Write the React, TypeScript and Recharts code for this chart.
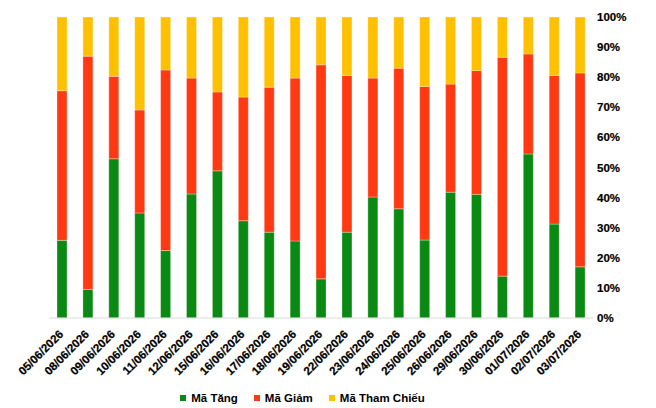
import React from 'react';
import { BarChart, Bar, XAxis, YAxis, Legend } from 'recharts';

const dates = [
  '05/06/2026', '08/06/2026', '09/06/2026', '10/06/2026', '11/06/2026', '12/06/2026',
  '15/06/2026', '16/06/2026', '17/06/2026', '18/06/2026', '19/06/2026', '22/06/2026',
  '23/06/2026', '24/06/2026', '25/06/2026', '26/06/2026', '29/06/2026', '30/06/2026',
  '01/07/2026', '02/07/2026', '03/07/2026',
];

// share of tickers per session, %
const tang = [25.8, 9.5, 52.9, 34.9, 22.4, 41.2, 48.9, 32.3, 28.5, 25.6, 13.0, 28.5, 40.2, 36.3, 25.9, 41.8, 41.1, 13.9, 54.5, 31.2, 17.0];
const giam = [49.7, 77.5, 27.4, 34.2, 60.0, 38.5, 26.2, 41.1, 48.2, 54.1, 71.1, 52.1, 39.5, 46.7, 51.0, 35.9, 41.1, 72.7, 33.2, 49.4, 64.4];
const thamChieu = [24.5, 13.0, 19.7, 30.9, 17.6, 20.3, 24.9, 26.6, 23.3, 20.3, 15.9, 19.4, 20.3, 17.0, 23.1, 22.3, 17.8, 13.4, 12.3, 19.4, 18.6];

const yTicks = [0, 0.1, 0.2, 0.3, 0.4, 0.5, 0.6, 0.7, 0.8, 0.9, 1];

const series = [
  { key: 'tang', name: 'Mã Tăng', color: '#0b8a13' },
  { key: 'giam', name: 'Mã Giảm', color: '#ff3a12' },
  { key: 'thamChieu', name: 'Mã Tham Chiếu', color: '#ffc000' },
];

const data = dates.map((d, i) => ({ date: d, tang: tang[i], giam: giam[i], thamChieu: thamChieu[i] }));

const font = '"Liberation Sans", Arial, sans-serif';

const DateTick = (props: any) => {
  const { x, y, payload } = props;
  const ax = x + 2;
  const ay = y + 9;
  return (
    <text
      x={ax}
      y={ay}
      transform={`rotate(-45, ${ax}, ${ay})`}
      textAnchor="end"
      fontFamily={font}
      fontWeight="bold"
      fontSize={11.5}
      fill="#000"
      stroke="#000"
      strokeWidth={0.25}
    >
      {payload.value}
    </text>
  );
};

const LegendBox = () => (
  <div
    style={{
      display: 'flex',
      justifyContent: 'center',
      alignItems: 'center',
      paddingRight: 84,
      paddingTop: 10,
      height: 20,
      fontFamily: font,
      fontWeight: 'bold',
      fontSize: 11.5,
      color: '#000',
    }}
  >
    {series.map((s) => (
      <div key={s.key} style={{ display: 'flex', alignItems: 'center', marginRight: 16 }}>
        <span style={{ width: 6, height: 6, background: s.color, marginRight: 5, display: 'inline-block' }} />
        {s.name}
      </div>
    ))}
  </div>
);

export default function App() {
  return (
    <div style={{ position: 'absolute', left: 0, top: 0 }}>
      <BarChart
        width={656}
        height={408}
        data={data}
        stackOffset="expand"
        barSize={10}
        margin={{ top: 17, right: 0, left: 49, bottom: 0 }}
      >
        <XAxis
          dataKey="date"
          interval={0}
          height={60}
          tickLine={false}
          axisLine={{ stroke: '#d9d9d9' }}
          tick={<DateTick />}
        />
        <YAxis
          orientation="right"
          width={63}
          domain={[0, 1]}
          ticks={yTicks}
          axisLine={false}
          tickLine={false}
          tickSize={2}
          tickMargin={2}
          tickFormatter={(v: number) => `${Math.round(v * 100)}%`}
          tick={{ fontFamily: font, fontWeight: 'bold', fontSize: 11.5, fill: '#000', stroke: '#000', strokeWidth: 0.2 }}
        />
        <Legend verticalAlign="bottom" height={30} content={<LegendBox />} />
        {series.map((s) => (
          <Bar
            key={s.key}
            dataKey={s.key}
            name={s.name}
            stackId="a"
            fill={s.color}
            stroke="#ffffff"
            strokeOpacity={0.5}
            strokeWidth={0.6}
            isAnimationActive={false}
          />
        ))}
      </BarChart>
    </div>
  );
}
